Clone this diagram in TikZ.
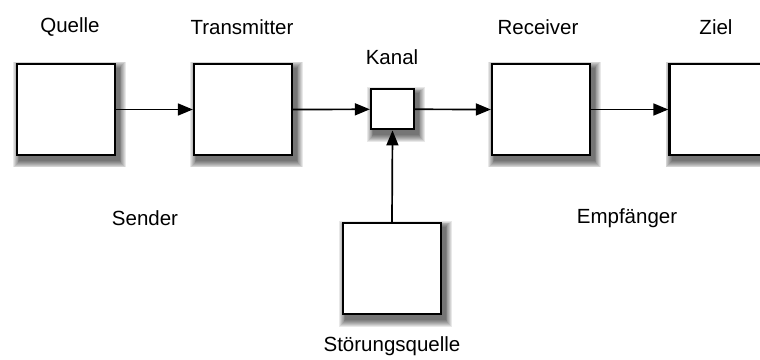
\documentclass[tikz,border=0pt]{standalone}
\usepackage{fontspec}
\setmainfont{Liberation Sans}
\usetikzlibrary{arrows.meta,backgrounds}
\pgfdeclarelayer{paper}
\pgfsetlayers{paper,background,main}
\begin{document}
\begin{tikzpicture}[x=1pt,y=-1pt,
  blockbox/.style={draw=black, line width=2.3pt, fill=white, inner sep=0pt,
    minimum width=98pt, minimum height=91pt},
  smallbox/.style={blockbox, minimum width=43pt, minimum height=40pt},
  lbl/.style={font=\fontsize{20.5}{24}\selectfont, inner sep=0pt},
  flow/.style={line width=1.7pt, -{Triangle[length=15pt,width=12pt]}}]
  \clip (0,0) rectangle (760,359);
  \begin{pgfonlayer}{paper}
    \fill[white] (0,0) rectangle (760,359);
  \end{pgfonlayer}

  % blocks of the communication chain
  \node[blockbox] (quelle) at (66,109.5) {};
  \node[blockbox] (trans) at (243,109.5) {};
  \node[smallbox] (kanal) at (392.5,109.3) {};
  \node[blockbox] (recv) at (541,109.5) {};
  \node[blockbox] (ziel) at (718.5,109.5) {};
  \node[blockbox] (stoer) at (392,268.7) {};

  % soft drop shadows, offset to the lower right
  \begin{scope}[on background layer]
    \foreach \n in {quelle,trans,kanal,recv,ziel,stoer}
      \foreach \r in {0,1,...,7}
        \fill[black, opacity=0.09]
          ([shift={(3.5-\r*0.9,5-\r*0.9)}]\n.north west)
          rectangle ([shift={(3.5+\r*0.9,5+\r*0.9)}]\n.south east);
  \end{scope}

  % labels
  \node[lbl] (lq) at (70,27) {Quelle};
  \node[lbl] (lt) at (242,27) {Transmitter};
  \node[lbl] (lk) at (392,57) {Kanal};
  \node[lbl] (lr) at (538,27) {Receiver};
  \node[lbl] (lz) at (716,27) {Ziel};
  \node[lbl] (ls) at (145,218) {Sender};
  \node[lbl] (le) at (627,218) {Empfänger};
  \node[lbl] (lst) at (392,346) {Störungsquelle};

  % signal flow
  \draw[flow] (quelle.east) -- (trans.west);
  \draw[flow] (trans.east) -- (kanal.west);
  \draw[flow] (kanal.east) -- (recv.west);
  \draw[flow] (recv.east) -- (ziel.west);
  \draw[flow] (stoer.north) -- (kanal.south);
\end{tikzpicture}
\end{document}
